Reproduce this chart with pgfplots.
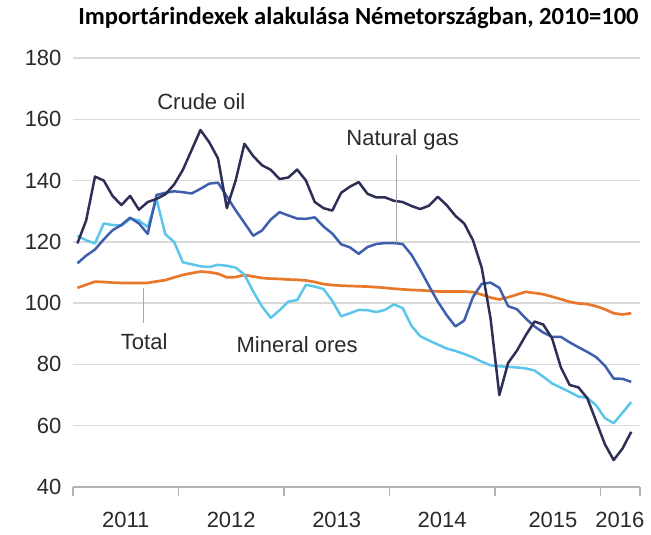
\documentclass[border=0pt]{standalone}
\usepackage{pgfplots}
\pgfplotsset{compat=1.18}
\usepackage{pgfplotstable}
\usepackage{fontspec}
\setmainfont{Liberation Sans}
\newfontfamily\titlefont{Carlito}
\definecolor{crude}{HTML}{2E2F57}
\definecolor{gas}{HTML}{3F5FAE}
\definecolor{ores}{HTML}{5CC6EA}
\definecolor{total}{HTML}{E8782C}
\definecolor{gridc}{HTML}{DADADA}
\definecolor{txt}{HTML}{2A2A2A}

\pgfplotstableread{
x     crude  gas    ores   total
0.5   119.5  113.0  122.0  105.0
1.5   127.0  115.5  120.5  106.0
2.5   141.3  117.5  119.5  107.0
3.5   140.0  120.8  126.0  106.9
4.5   135.0  123.8  125.5  106.7
5.5   132.0  125.5  125.3  106.6
6.5   135.0  127.9  127.5  106.6
7.5   130.5  126.0  127.0  106.6
8.5   133.0  122.6  124.8  106.6
9.5   134.0  135.3  134.0  107.1
10.5  135.5  136.0  122.5  107.5
11.5  138.7  136.5  120.0  108.4
12.5  143.5  136.2  113.3  109.2
13.5  150.0  135.8  112.7  109.8
14.5  156.5  137.3  112.0  110.3
15.5  152.5  139.0  111.8  110.1
16.5  147.2  139.3  112.5  109.6
17.5  131.0  134.8  112.2  108.4
18.5  140.0  130.3  111.6  108.5
19.5  152.0  126.2  109.3  109.2
20.5  148.0  122.0  103.8  108.7
21.5  145.0  123.7   98.9  108.2
22.5  143.5  127.3   95.2  108.0
23.5  140.5  129.7   97.7  107.9
24.5  141.0  128.6  100.5  107.7
25.5  143.6  127.6  101.0  107.6
26.5  140.0  127.5  106.0  107.4
27.5  133.0  128.0  105.4  106.9
28.5  131.0  125.0  104.6  106.2
29.5  130.2  122.7  100.7  105.9
30.5  136.0  119.2   95.7  105.7
31.5  138.0  118.2   96.7  105.6
32.5  139.5  116.1   97.8  105.5
33.5  135.7  118.3   97.7  105.4
34.5  134.5  119.3   97.1  105.2
35.5  134.5  119.6   97.8  105.0
36.5  133.4  119.6   99.6  104.7
37.5  133.0  119.3   98.4  104.5
38.5  131.7  115.8   92.6  104.3
39.5  130.7  110.9   89.2  104.2
40.5  131.8  105.6   87.8  104.0
41.5  134.7  100.5   86.5  103.8
42.5  132.0   96.1   85.2  103.8
43.5  128.5   92.4   84.4  103.8
44.5  126.0   94.3   83.4  103.8
45.5  120.5  102.0   82.3  103.6
46.5  111.5  106.3   80.9  102.8
47.5   95.0  106.7   79.7  101.8
48.5   70.0  105.0   79.4  101.2
49.5   80.5   99.0   79.2  101.9
50.5   84.5   98.0   79.0  102.8
51.5   89.5   95.0   78.7  103.7
52.5   94.0   92.4   78.0  103.3
53.5   93.0   90.4   76.0  102.9
54.5   88.5   89.0   73.8  102.1
55.5   79.0   89.0   72.4  101.3
56.5   73.3   87.2   71.0  100.4
57.5   72.5   85.6   69.5   99.9
58.5   69.0   84.1   69.1   99.7
59.5   61.5   82.4   66.7   99.0
60.5   54.0   79.6   62.5   98.0
61.5   48.8   75.4   60.8   96.7
62.5   52.5   75.3   64.2   96.3
63.5   58.0   74.3   67.7   96.7
}\datatable

\begin{document}
\begin{tikzpicture}
\path[use as bounding box] (-73pt,-48pt) rectangle (578pt,487pt);
\begin{axis}[
  at={(0pt,0pt)}, anchor=south west,
  scale only axis, width=567pt, height=429pt,
  xmin=0, xmax=64.5, ymin=40, ymax=180,
  separate axis lines,
  axis x line*=bottom,
  axis y line*=left,
  y axis line style={draw=none},
  x axis line style={draw=gray!60, line width=1.2pt},
  ytick={40,60,...,180},
  ytick style={draw=none},
  ymajorgrids,
  grid style={draw=gridc, line width=1.5pt},
  xtick={0,12,24,36,48,60,64.5},
  xticklabels={},
  xtick style={draw=gray!60, line width=1.2pt},
  tick align=outside,
  major tick length=9pt,
  extra x ticks={6,18,30,42,54.6,62.2},
  extra x tick labels={2011,2012,2013,2014,2015,2016},
  extra x tick style={major tick length=0pt, xmajorgrids=false,
     xticklabel style={anchor=base, yshift=-41pt}},
  /pgf/number format/assume math mode=true,
  yticklabel style={anchor=east, xshift=1pt},
  ticklabel style={font=\fontsize{22}{26}\selectfont, text=txt},
  clip=false,
]
\addplot[total, line width=2.7pt, line join=round] table[x=x, y=total] {\datatable};
\addplot[ores, line width=2.5pt, line join=round] table[x=x, y=ores] {\datatable};
\addplot[gas, line width=2.5pt, line join=round] table[x=x, y=gas] {\datatable};
\addplot[crude, line width=2.5pt, line join=round] table[x=x, y=crude] {\datatable};
\draw[gray!70, line width=0.8pt] (axis cs:36.75,148.5) -- (axis cs:36.75,119.7);
\draw[gray!70, line width=0.8pt] (axis cs:7.96,105) -- (axis cs:7.96,93.6);
\node[text=txt, font=\fontsize{22}{26}\selectfont] at (axis cs:14.6,165.9) {Crude oil};
\node[text=txt, font=\fontsize{22}{26}\selectfont] at (axis cs:37.5,153.4) {Natural gas};
\node[text=txt, font=\fontsize{22}{26}\selectfont] at (axis cs:8.1,87.5) {Total};
\node[text=txt, font=\fontsize{22}{26}\selectfont] at (axis cs:25.5,86.4) {Mineral ores};
\end{axis}
\node[anchor=base, font=\titlefont\bfseries\fontsize{24.6}{28}\selectfont] at (285.5pt,462pt) {Importárindexek alakulása Németországban, 2010=100};
\end{tikzpicture}
\end{document}
